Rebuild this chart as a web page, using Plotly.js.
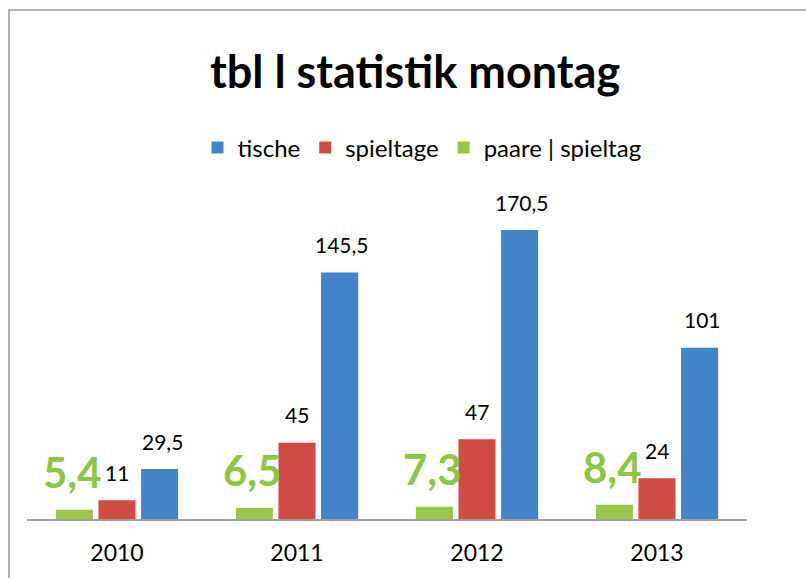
<!DOCTYPE html>
<html><head><meta charset="utf-8">
<script src="https://cdn.plot.ly/plotly-3.0.1.min.js"></script>
<style>html,body{margin:0;padding:0;background:#fff}#chart{width:806px;height:578px}</style>
</head><body><div id="chart"></div>
<script>
const years = ['2010', '2011', '2012', '2013'];
const paare = [5.4, 6.5, 7.3, 8.4];
const spieltage = [11, 45, 47, 24];
const tische = [29.5, 145.5, 170.5, 101];

const FONT = 'Lato, "Open Sans", sans-serif';
const fmt = v => String(v).replace('.', ',');

const traces = [
  {type: 'bar', name: 'paare | spieltag', x: years, y: paare, marker: {color: '#9cc44b'}, hoverinfo: 'skip'},
  {type: 'bar', name: 'spieltage', x: years, y: spieltage, marker: {color: '#cf4b43'}, hoverinfo: 'skip'},
  {type: 'bar', name: 'tische', x: years, y: tische, marker: {color: '#4384c8'}, hoverinfo: 'skip'}
];

const annotations = [];
years.forEach((yr, i) => {
  annotations.push({x: yr, y: paare[i], xref: 'x', yref: 'y', text: fmt(paare[i]), showarrow: false,
    xshift: -45, yshift: 38, font: {family: FONT, size: 42, color: '#8dc63f', weight: 'bold'}});
  annotations.push({x: yr, y: spieltage[i], xref: 'x', yref: 'y', text: fmt(spieltage[i]), showarrow: false,
    xshift: 0, yshift: 28, font: {family: FONT, size: 21, color: '#000'}});
  annotations.push({x: yr, y: tische[i], xref: 'x', yref: 'y', text: fmt(tische[i]), showarrow: false,
    xshift: 45, yshift: 28, font: {family: FONT, size: 21, color: '#000'}});
});

const layout = {
  width: 806, height: 578,
  margin: {l: 27, r: 59, t: 214, b: 59},
  paper_bgcolor: '#fff', plot_bgcolor: '#fff',
  separators: ',.',
  barmode: 'group', bargap: 0.29, bargroupgap: 0.13,
  title: {text: '<b>tbl l statistik montag</b>', x: 0.515, xanchor: 'center', xref: 'container',
    y: 1 - 72/578, yanchor: 'middle', yref: 'container',
    font: {family: FONT, size: 45, color: '#000'}},
  showlegend: true,
  legend: {orientation: 'h', traceorder: 'reversed', x: (422-27)/720, xanchor: 'center',
    y: (519-148)/305, yanchor: 'middle', font: {family: FONT, size: 24, color: '#000'}, itemwidth: 30},
  xaxis: {showline: true, linecolor: '#a0a0a0', linewidth: 1.5, showgrid: false, ticks: '',
    ticklabelstandoff: 13,
    tickfont: {family: FONT, size: 23, color: '#000'}, fixedrange: true},
  yaxis: {range: [0, 180], visible: false, showgrid: false, zeroline: false, fixedrange: true},
  shapes: [{type: 'rect', xref: 'paper', yref: 'paper', x0: (9-27)/720, x1: 2, y0: -1, y1: (519-10)/305,
    line: {color: '#9a9a9a', width: 1.5}, fillcolor: 'rgba(0,0,0,0)', layer: 'below'}],
  annotations: annotations
};

Plotly.newPlot('chart', traces, layout, {displayModeBar: false, staticPlot: true});
</script></body></html>
